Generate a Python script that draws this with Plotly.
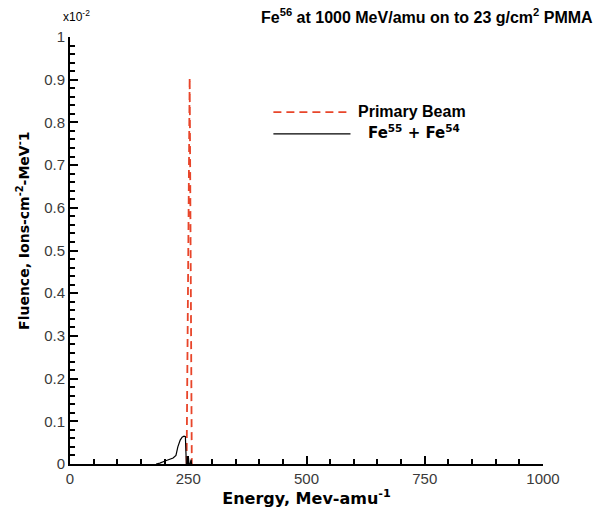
import plotly.graph_objects as go

# Data (fluence in units of 1e-2 ions-cm^-2-MeV^-1)
beam_energy = [246.5, 253.0, 257.5]
beam_fluence = [0.0, 0.905, 0.0]

frag_energy = [182, 190, 201, 211, 218, 224, 228, 233, 237, 241, 244, 245, 246, 249.5, 250.5, 251.5, 254, 256, 257]
frag_fluence = [0.0, 0.002, 0.007, 0.012, 0.014, 0.02, 0.04, 0.056, 0.063, 0.065, 0.064, 0.03, 0.0, 0.0, 0.014, 0.0, 0.0, 0.01, 0.0]

x_ticks = [0, 250, 500, 750, 1000]
y_ticks = [0, 0.1, 0.2, 0.3, 0.4, 0.5, 0.6, 0.7, 0.8, 0.9, 1]
y_tick_labels = ["0", "0.1", "0.2", "0.3", "0.4", "0.5", "0.6", "0.7", "0.8", "0.9", "1"]

RED = "#e8452a"
FONT = "Liberation Sans, Arial, sans-serif"
WIDE = "DejaVu Sans, Verdana, sans-serif"

fig = go.Figure()
fig.add_trace(go.Scatter(x=beam_energy, y=beam_fluence, mode="lines",
                         line=dict(color=RED, width=1.8, dash="8px,5px"),
                         name="Primary Beam", showlegend=False))
fig.add_trace(go.Scatter(x=frag_energy, y=frag_fluence, mode="lines",
                         line=dict(color="black", width=1.2),
                         name="Fe55 + Fe54", showlegend=False))

axis_common = dict(showgrid=False, zeroline=False, showline=True, linecolor="black",
                   linewidth=2, ticks="inside", tickcolor="black", tickwidth=1.5,
                   ticklen=8, tickfont=dict(family=FONT, size=15, color="#3a3a3a"))

fig.update_xaxes(range=[0, 1000], tickvals=x_ticks, ticktext=[str(v) for v in x_ticks],
                 minor=dict(dtick=50, ticks="inside", ticklen=5, tickcolor="black", tickwidth=1.5),
                 title=dict(text="<b>Energy, Mev-amu<sup>-1</sup></b>", font=dict(family=WIDE, size=16, color="black"), standoff=2),
                 **axis_common)
fig.update_yaxes(range=[0, 1], tickvals=y_ticks, ticktext=y_tick_labels,
                 minor=dict(dtick=0.02, ticks="inside", ticklen=5, tickcolor="black", tickwidth=1.5),
                 **axis_common)

# Y-axis title (placed as annotation, slightly above center like the reference)
fig.add_annotation(text="<b>Fluence, Ions-cm<sup>-2</sup>-MeV<sup>-</sup>1</b>",
                   xref="paper", yref="paper", x=-0.098, y=0.545, textangle=-90,
                   xanchor="center", yanchor="middle", showarrow=False,
                   font=dict(family=WIDE, size=14, color="black"))

# Title and multiplier
fig.add_annotation(text="<b>Fe<sup>56</sup> at 1000 MeV/amu on to 23 g/cm<sup>2</sup> PMMA</b>",
                   xref="paper", yref="paper", x=1.11, y=1.02, xanchor="right", yanchor="bottom",
                   showarrow=False, font=dict(family=FONT, size=16, color="black"))
fig.add_annotation(text="x10<sup>-2</sup>", xref="paper", yref="paper", x=-0.019, y=1.025,
                   xanchor="left", yanchor="bottom", showarrow=False,
                   font=dict(family=FONT, size=12, color="black"))

# Legend (drawn manually)
fig.add_shape(type="line", xref="paper", yref="paper", x0=0.43, x1=0.593, y0=0.824, y1=0.824,
              line=dict(color=RED, width=1.8, dash="8px,5px"))
fig.add_annotation(text="<b>Primary Beam</b>", xref="paper", yref="paper", x=0.605, y=0.826,
                   xanchor="left", yanchor="middle", showarrow=False,
                   font=dict(family=FONT, size=16, color="black"))
fig.add_shape(type="line", xref="paper", yref="paper", x0=0.43, x1=0.593, y0=0.773, y1=0.773,
              line=dict(color="black", width=1.2))
fig.add_annotation(text="<b>Fe<sup>55</sup> + Fe<sup>54</sup></b>", xref="paper", yref="paper", x=0.625, y=0.777,
                   xanchor="left", yanchor="middle", showarrow=False,
                   font=dict(family=WIDE, size=15, color="black"))

fig.update_layout(width=602, height=512, margin=dict(l=70, r=59, t=37, b=46),
                  plot_bgcolor="white", paper_bgcolor="white", showlegend=False)

fig.write_html("out.html")
